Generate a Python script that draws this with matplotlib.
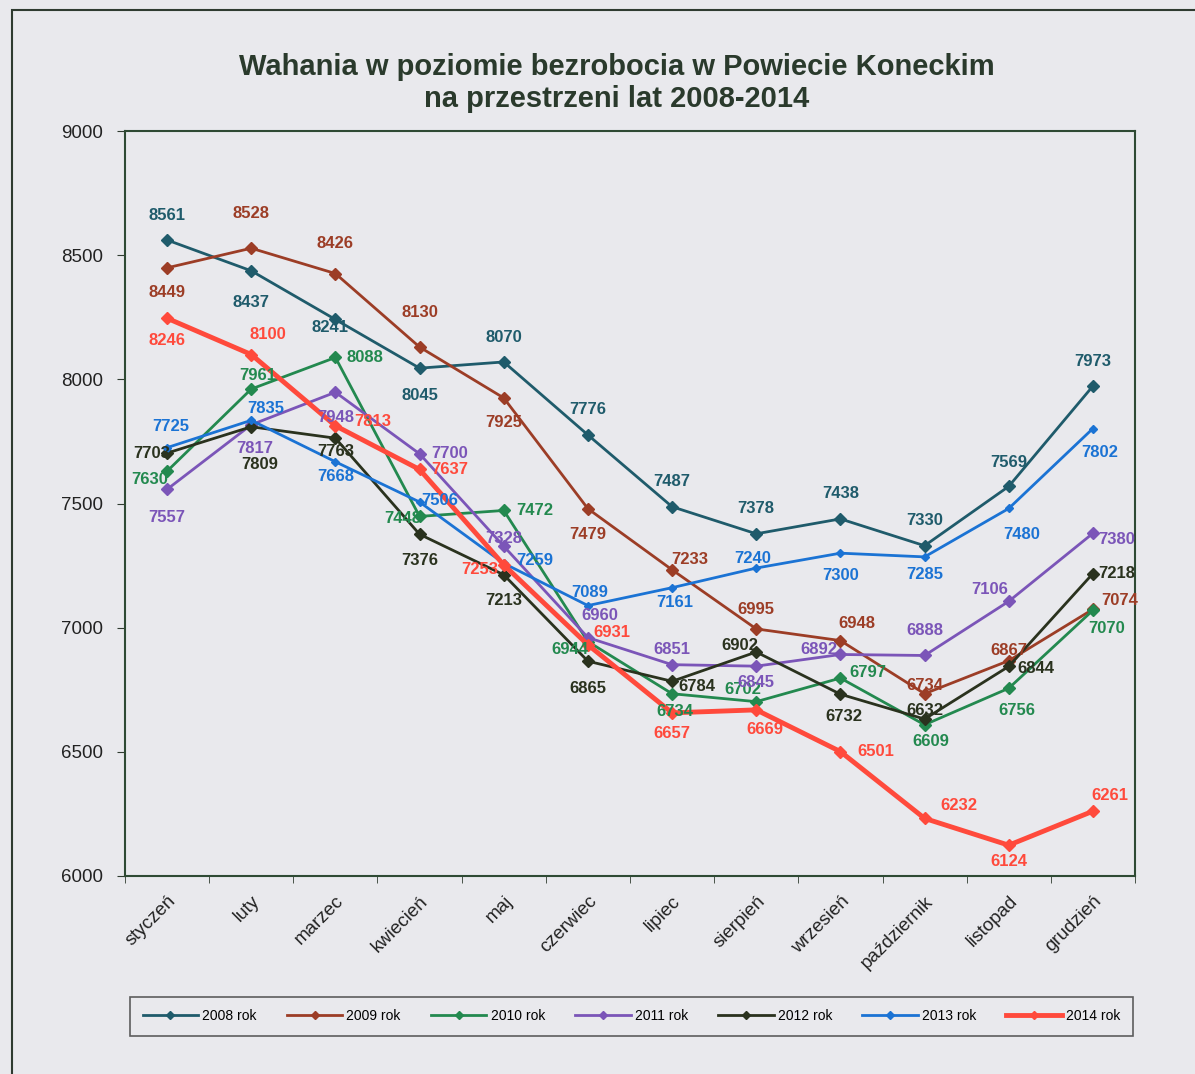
import matplotlib
matplotlib.use("Agg")
import matplotlib.pyplot as plt
from matplotlib.patches import Rectangle
import numpy as np

plt.rcParams['font.family'] = ['Liberation Sans', 'DejaVu Sans']

months = ["styczeń", "luty", "marzec", "kwiecień", "maj", "czerwiec", "lipiec",
          "sierpień", "wrzesień", "październik", "listopad", "grudzień"]

s2008 = [8561, 8437, 8241, 8045, 8070, 7776, 7487, 7378, 7438, 7330, 7569, 7973]
s2009 = [8449, 8528, 8426, 8130, 7925, 7479, 7233, 6995, 6948, 6734, 6867, 7074]
s2010 = [7630, 7961, 8088, 7448, 7472, 6944, 6734, 6702, 6797, 6609, 6756, 7070]
s2011 = [7557, 7817, 7948, 7700, 7328, 6960, 6851, 6845, 6892, 6888, 7106, 7380]
s2012 = [7703, 7809, 7763, 7376, 7213, 6865, 6784, 6902, 6732, 6632, 6844, 7218]
s2013 = [7725, 7835, 7668, 7506, 7259, 7089, 7161, 7240, 7300, 7285, 7480, 7802]
s2014 = [8246, 8100, 7813, 7637, 7253, 6931, 6657, 6669, 6501, 6232, 6124, 6261]

series_names = ["2008 rok", "2009 rok", "2010 rok", "2011 rok", "2012 rok", "2013 rok", "2014 rok"]
series_values = [s2008, s2009, s2010, s2011, s2012, s2013, s2014]

y_ticks = [6000, 6500, 7000, 7500, 8000, 8500, 9000]

# styling
colors = ["#1f5b6b", "#9c3d26", "#23894f", "#7b55b8", "#2a321e", "#1b73d4", "#ff4a3c"]
widths = [2.0, 2.0, 2.0, 2.0, 2.0, 2.0, 3.5]
msizes = [6, 6, 6, 6, 6, 4, 6]

# label offsets in pixels (dx, dy up)
offsets = [
    [(0, 25), (0, -32), (-5, -8), (0, -27), (0, 24), (0, 25), (0, 25), (0, 25), (0, 25), (0, 25), (0, 24), (0, 25)],
    [(0, -25), (0, 35), (0, 30), (0, 35), (0, -25), (0, -26), (18, 10), (0, 19), (16, 17), (0, 8), (0, 10), (27, 9)],
    [(-17, -8), (7, 14), (30, 0), (-17, -2), (31, 0), (-18, -8), (3, -18), (-13, 12), (27, 6), (6, -17), (8, -22), (14, -18)],
    [(0, -28), (4, -24), (0, -25), (30, 0), (0, 8), (12, 22), (0, 15), (0, -16), (-22, 5), (0, 25), (-19, 12), (24, -6)],
    [(-15, 0), (8, -38), (0, -13), (0, -26), (0, -26), (0, -27), (25, -5), (-16, 7), (3, -22), (0, 9), (27, -2), (24, 0)],
    [(4, 21), (15, 12), (0, -15), (20, 2), (31, 3), (2, 13), (3, -15), (-4, 10), (0, -22), (0, -18), (13, -26), (7, -24)],
    [(0, -22), (17, 20), (37, 4), (30, 0), (-24, -5), (24, 12), (0, -21), (9, -20), (35, 0), (34, 13), (0, -16), (17, 16)],
]

bg = "#e9e9ed"
fig = plt.figure(figsize=(11.95, 10.74), dpi=100, facecolor=bg)
ax = fig.add_axes([125 / 1195, 1 - 876 / 1074, 1010 / 1195, 745 / 1074])
ax.set_facecolor(bg)

# outer chart border
fig.patches.append(Rectangle((12 / 1195, -0.05), 1.2, 1 - 10 / 1074 + 0.05,
                             transform=fig.transFigure, fill=False,
                             edgecolor="#2f3b30", linewidth=1.5))

x = np.arange(len(months))
for name, vals, col, lw, ms, offs in zip(series_names, series_values, colors, widths, msizes, offsets):
    ax.plot(x, vals, color=col, lw=lw, marker="D", markersize=ms, label=name, zorder=3)
    for xi, v, (dx, dy) in zip(x, vals, offs):
        ax.annotate(str(v), (xi, v), xytext=(dx, dy), textcoords="offset pixels",
                    ha="center", va="center", fontsize=12, fontweight="bold",
                    color=col, zorder=4)

ax.set_xlim(-0.5, 11.5)
ax.set_ylim(6000, 9000)
ax.set_yticks(y_ticks)
ax.set_yticklabels([str(t) for t in y_ticks], fontsize=13.5, color="#222222")
ax.set_xticks(x)
ax.set_xticklabels(months, rotation=45, ha="right", rotation_mode="anchor",
                   fontsize=13.5, color="#222222")
ax.set_xticks(np.arange(-0.5, 12, 1), minor=True)
ax.tick_params(axis="x", which="major", length=0, pad=12)
ax.tick_params(axis="x", which="minor", length=5, color="#2f3b30")
ax.tick_params(axis="y", length=6, color="#2f3b30", pad=10)
for sp in ax.spines.values():
    sp.set_color("#2f4a34")
    sp.set_linewidth(1.5)

fig.text(617 / 1195, 1 - 67 / 1074, "Wahania w poziomie bezrobocia w Powiecie Koneckim",
         ha="center", va="center", fontsize=21, fontweight="bold", color="#2a3a2c")
fig.text(617 / 1195, 1 - 99 / 1074, "na przestrzeni lat 2008-2014",
         ha="center", va="center", fontsize=21, fontweight="bold", color="#2a3a2c")

leg = fig.legend(loc="center", mode="expand",
                 bbox_to_anchor=(130 / 1195, 1 - 1035 / 1074, 1003 / 1195, 38 / 1074),
                 ncol=7, fontsize=10, frameon=True, fancybox=False, edgecolor="#3a3a3a",
                 facecolor=bg, handlelength=4, handletextpad=0.3, borderpad=0.9,
                 borderaxespad=0)
leg.get_frame().set_linewidth(1.2)
for h in leg.legend_handles:
    h.set_markersize(4)

fig.savefig("out.png", dpi=100, facecolor=bg)
